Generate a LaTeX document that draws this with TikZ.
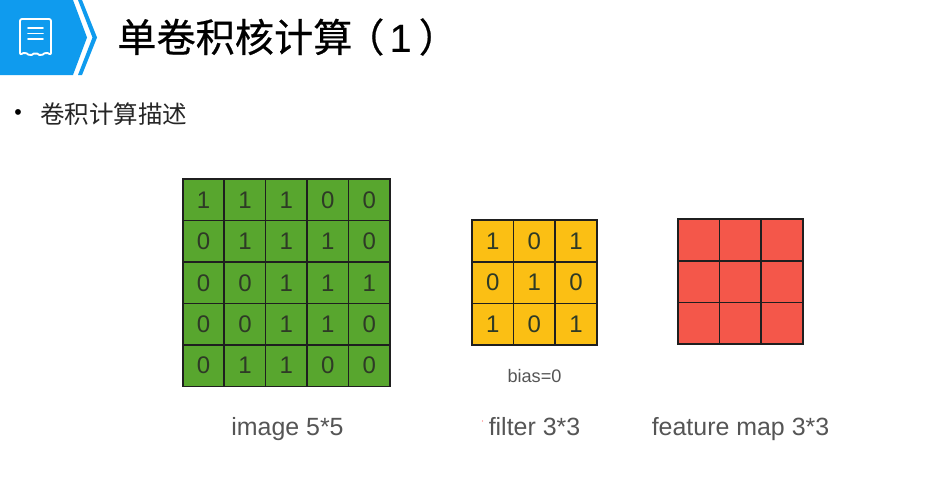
\documentclass[tikz,border=0pt]{standalone}
\usepackage{fontspec}
\setmainfont{Liberation Sans}
\newfontfamily\cjk{Noto Sans CJK SC}
\newfontfamily\cjkt[FakeBold=0.5]{Noto Sans CJK SC}
\newfontfamily\latt[FakeBold=0.3]{Liberation Sans}
\definecolor{hdrblue}{HTML}{0F9BEE}
\definecolor{cellgreen}{HTML}{58A62E}
\definecolor{cellyellow}{HTML}{FBBF14}
\definecolor{cellred}{HTML}{F4574A}
\definecolor{numgrey}{HTML}{2E3A26}
\definecolor{capgrey}{HTML}{555555}
\tikzset{
  x=0.75pt,y=-0.75pt,
  gridcell/.style={draw=black!88!white,line width=1.2pt,minimum size=31.1pt,inner sep=0pt,outer sep=0pt,text=numgrey,font=\fontsize{18}{18}\selectfont},
  greencell/.style={gridcell,fill=cellgreen},
  yellowcell/.style={gridcell,fill=cellyellow},
  redcell/.style={gridcell,fill=cellred},
  caption/.style={text=capgrey,inner sep=0pt,anchor=base,font=\fontsize{18.7}{20}\selectfont},
  iconline/.style={draw=white,line width=1.4pt,line cap=round,line join=round},
}
\begin{document}
\begin{tikzpicture}
\useasboundingbox (0,0) rectangle (934,479);
\fill[white] (0,0) rectangle (934,479);
% header badge
\fill[hdrblue] (0,0) -- (73,0) -- (87,37.5) -- (73,75) -- (0,75) -- cycle;
\fill[hdrblue] (78,0) -- (82,0) -- (97,37.5) -- (82,75) -- (78,75) -- (92.5,37.5) -- cycle;
\draw[iconline,rounded corners=1.5pt] (20,19) -- (51,19) -- (51,55) -- (46,52) -- (41,56) -- (35.5,52.5) -- (30,56) -- (25,52) -- (20,55) -- cycle;
\draw[iconline] (28,28) -- (43,28) (28,33.5) -- (43,33.5) (28,39) -- (43,39);
% title and bullet
\node[anchor=west,inner sep=0pt,text=black] (title) at (117,37) {\fontsize{29.4}{30}\selectfont{\cjkt 单卷积核计算\kern-5.5pt（}\kern4pt{\latt 1}\kern5.5pt{\cjkt ）}};
\node[anchor=center,inner sep=0pt] (dot) at (18,115) {\fontsize{16}{16}\selectfont •};
\node[anchor=west,inner sep=0pt,text=black!85] (desc) at (40,114) {\cjk\fontsize{18.4}{20}\selectfont 卷积计算描述};
% image 5x5
\foreach \r/\row in {0/{1,1,1,0,0},1/{0,1,1,1,0},2/{0,0,1,1,1},3/{0,0,1,1,0},4/{0,1,1,0,0}}{
  \foreach \v [count=\c from 0] in \row {
    \node[greencell] (img-\r-\c) at ({203.6+41.4*\c},{200+41.4*\r}) {\v};
  }
}
% filter 3x3
\foreach \r/\row in {0/{1,0,1},1/{0,1,0},2/{1,0,1}}{
  \foreach \v [count=\c from 0] in \row {
    \node[yellowcell] (fil-\r-\c) at ({492.8+41.6*\c},{241+41.6*\r}) {\v};
  }
}
% feature map 3x3
\foreach \r in {0,1,2}{
  \foreach \c in {0,1,2}{
    \node[redcell] (fea-\r-\c) at ({698.8+41.6*\c},{240+41.6*\r}) {};
  }
}
% captions
\node[inner sep=0pt,anchor=base,text=capgrey] (bias) at (534.5,382) {\fontsize{13.6}{15}\selectfont bias=0};
\node[caption] (capimg) at (287.5,435) {image 5*5};
\node[caption] (capfil) at (534.5,435) {filter 3*3};
\node[caption] (capfea) at (740.5,435) {feature map 3*3};
\fill[red!60!white] (482.5,421) circle (0.6);
\end{tikzpicture}
\end{document}
